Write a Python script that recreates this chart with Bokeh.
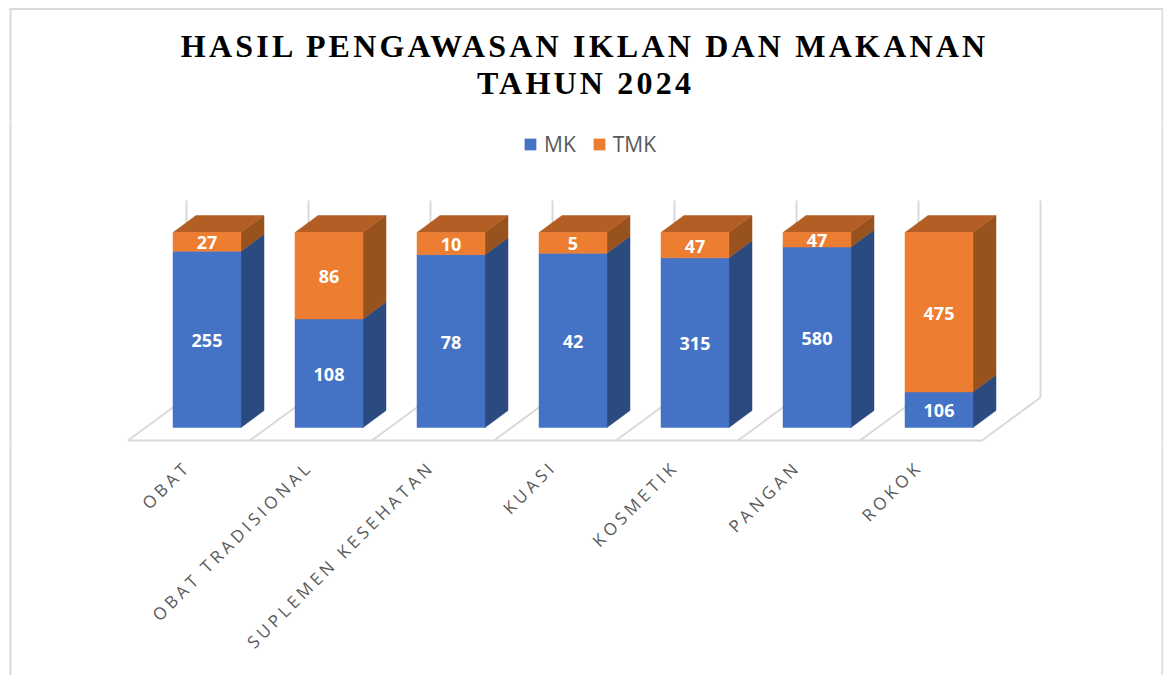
import math

from bokeh.core.properties import value
from bokeh.embed import file_html
from bokeh.layouts import column
from bokeh.models import ColumnDataSource, Legend, LegendItem, Range1d
from bokeh.plotting import figure
from bokeh.resources import INLINE

title_lines = ["HASIL PENGAWASAN IKLAN DAN MAKANAN", "TAHUN 2024"]
categories = ["OBAT", "OBAT TRADISIONAL", "SUPLEMEN KESEHATAN", "KUASI", "KOSMETIK", "PANGAN", "ROKOK"]
mk = [255, 108, 78, 42, 315, 580, 106]
tmk = [27, 86, 10, 5, 47, 47, 475]

BLUE, BLUE_SIDE = "#4472C4", "#2A4A80"
ORANGE, ORANGE_SIDE, ORANGE_TOP = "#ED7D31", "#98521E", "#B25E24"
GRID, TEXT = "#D9D9D9", "#595959"

# Page geometry: one data unit in x is a category slot, y is the share in percent.
PAGE_W, PAGE_H = 1163, 675
PX_X, PX_Y = 122.0, 1.95
ORIGIN_X, ORIGIN_Y = 206.5, 427.0
TITLE_SPACING, CAT_SPACING = 3.2, 3.85


def dx(px):
    return px / PX_X


def dy(px):
    return px / PX_Y


def X(px):
    return (px - ORIGIN_X) / PX_X


def Y(px):
    return (ORIGIN_Y - px) / PX_Y


def panel(top, bottom, spacing=None):
    f = figure(
        width=PAGE_W, height=bottom - top, output_backend="svg", toolbar_location=None,
        x_range=Range1d(X(0), X(PAGE_W)), y_range=Range1d(Y(bottom), Y(top)),
        x_axis_location=None, y_axis_location=None, min_border=0,
        outline_line_color=None, background_fill_color="white", border_fill_color="white",
    )
    f.grid.visible = False
    if spacing:
        f.styles = {"letter-spacing": f"{spacing}px"}
    # chart-area frame, open at the bottom where the picture crops it
    start = 8 if top < 8 else top - 3
    f.segment(x0=[X(10), X(1162)], y0=[Y(start)] * 2, x1=[X(10), X(1162)], y1=[Y(bottom + 3)] * 2,
              line_color=GRID, line_width=2)
    return f


# ---------- title panel ----------
p_title = panel(0, 120, TITLE_SPACING)
p_title.segment(x0=[X(9)], y0=[Y(8.5)], x1=[X(1163)], y1=[Y(8.5)], line_color=GRID, line_width=2)
p_title.text(x=[X(585) - dx(len(t) * TITLE_SPACING / 2) for t in title_lines], y=[Y(45), Y(82)], text=title_lines,
             text_font=value("Liberation Serif"), text_font_style="bold", text_font_size="32px",
             text_color="#000000", text_align="center", text_baseline="middle")

# ---------- plot panel ----------
p = panel(120, 445)
n = len(categories)
DEPTH_X, DEPTH_Y = dx(23), dy(17)
BAR_W = dx(68)
FLOOR_X, FLOOR_Y = dx(58.5), dy(43)
floor_y = Y(440)
wall_top = Y(200)
first_edge = X(127.5)
edges = [first_edge + i for i in range(n + 1)]

p.segment(x0=[e + FLOOR_X for e in edges], y0=[floor_y + FLOOR_Y] * (n + 1),
          x1=[e + FLOOR_X for e in edges], y1=[wall_top] * (n + 1), line_color=GRID, line_width=2)
p.segment(x0=edges, y0=[floor_y] * (n + 1), x1=[e + FLOOR_X for e in edges], y1=[floor_y + FLOOR_Y] * (n + 1),
          line_color=GRID, line_width=2)
p.segment(x0=[edges[0]], y0=[floor_y], x1=[edges[-1]], y1=[floor_y], line_color=GRID, line_width=2)

xs = list(range(n))
share = [m / (m + t) * 100 for m, t in zip(mk, tmk)]
left = [x - BAR_W / 2 for x in xs]
right = [x + BAR_W / 2 for x in xs]


def side(y0s, y1s):
    return ([[r, r + DEPTH_X, r + DEPTH_X, r] for r in right],
            [[a, a + DEPTH_Y, b + DEPTH_Y, b] for a, b in zip(y0s, y1s)])


sx, sy = side([0] * n, share)
p.patches(sx, sy, fill_color=BLUE_SIDE, line_color=BLUE_SIDE, line_width=0.5)
sx, sy = side(share, [100] * n)
p.patches(sx, sy, fill_color=ORANGE_SIDE, line_color=ORANGE_SIDE, line_width=0.5)
p.patches([[l, r, r + DEPTH_X, l + DEPTH_X] for l, r in zip(left, right)],
          [[100, 100, 100 + DEPTH_Y, 100 + DEPTH_Y]] * n, fill_color=ORANGE_TOP, line_color=ORANGE_TOP, line_width=0.5)

LABEL_DROP = dy(1)
src = ColumnDataSource(dict(x=xs, s=share, zero=[0] * n, full=[100] * n, mk=[str(v) for v in mk],
                            tmk=[str(v) for v in tmk],
                            ym=[s / 2 - LABEL_DROP for s in share],
                            yt=[(s + 100) / 2 - LABEL_DROP for s in share]))
r_mk = p.vbar(x="x", width=BAR_W, bottom="zero", top="s", source=src, fill_color=BLUE, line_color=BLUE, line_width=0.5)
r_tmk = p.vbar(x="x", width=BAR_W, bottom="s", top="full", source=src, fill_color=ORANGE, line_color=ORANGE, line_width=0.5)
for col, ypos in (("mk", "ym"), ("tmk", "yt")):
    p.text(x="x", y=ypos, text=col, source=src, text_color="white", text_font=value("Open Sans"),
           text_font_style="bold", text_font_size="18px", text_align="center", text_baseline="middle")

legend = Legend(items=[LegendItem(label="MK", renderers=[r_mk]), LegendItem(label="TMK", renderers=[r_tmk])],
                orientation="horizontal", location=(523, 287), background_fill_alpha=0,
                border_line_color=None, glyph_width=14, glyph_height=14, label_standoff=7, spacing=16,
                padding=8, margin=0, label_text_font="Open Sans", label_text_font_size="21px",
                label_text_color=TEXT)
p.add_layout(legend, "center")

# ---------- category labels panel ----------
p_cat = panel(445, PAGE_H, CAT_SPACING)
slant = math.cos(math.radians(45))
p_cat.text(x=[i + dx(-28 - len(c) * CAT_SPACING * slant) for i, c in zip(xs, categories)],
           y=[Y(455 + len(c) * CAT_SPACING * slant) for c in categories], text=categories,
           angle=45, angle_units="deg",
           text_font=value("Open Sans"), text_font_size="17px", text_color=TEXT,
           text_align="right", text_baseline="top")

page = column(p_title, p, p_cat, spacing=0)
open("out.html", "w").write(file_html(page, INLINE))
